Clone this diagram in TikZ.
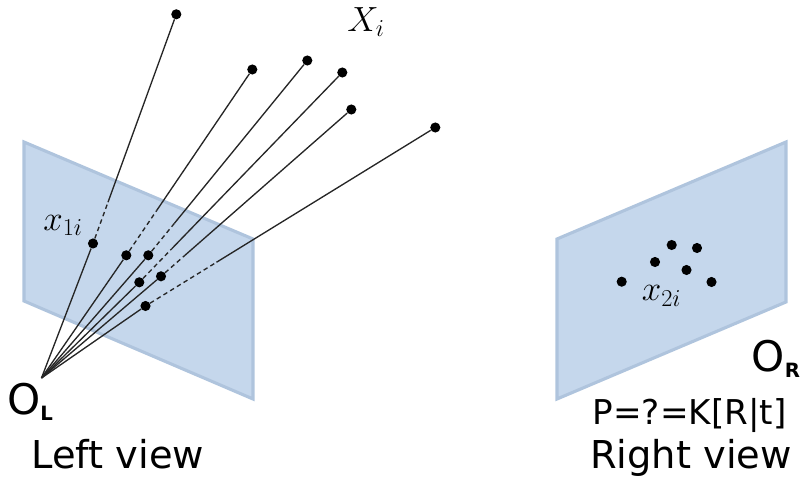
\documentclass[tikz,border=0pt]{standalone}
\usepackage{fontspec}
\setmainfont{DejaVu Sans}
\usetikzlibrary{calc}
\definecolor{planeFill}{HTML}{C5D7EC}
\definecolor{planeEdge}{HTML}{AFC4DD}

\begin{document}
\begin{tikzpicture}[
  x=0.025cm, y=-0.025cm,
  plane/.style={draw=planeEdge, fill=planeFill, line width=2.2pt, line join=miter},
  dot/.style={circle, fill=black, inner sep=0pt, minimum size=7.2pt},
  ray/.style={draw=black!85, line width=0.95pt},
  hidden/.style={draw=black!85, line width=0.95pt, dash pattern=on 3.2pt off 2.4pt},
  title/.style={font=\fontsize{27.3}{32}\selectfont, inner sep=0pt},
  matrixtext/.style={font=\fontsize{24.3}{29}\selectfont, inner sep=0pt},
  origin/.style={font=\fontsize{30}{36}\selectfont, inner sep=0pt},
  symbol/.style={font=\fontsize{24.5}{30}\selectfont, inner sep=0pt}
]
\useasboundingbox (0,0) rectangle (802,477);

% Image planes
\draw[plane] (24,142) -- (253,239) -- (253,399) -- (24,301) -- cycle;
\draw[plane] (557,239) -- (786,142) -- (786,302) -- (557,399) -- cycle;

% Camera centre and points in space
\coordinate (apex) at (41.5,378);
\node[dot] (worldA) at (176.3,14.3) {};
\node[dot] (worldB) at (252.3,69.5) {};
\node[dot] (worldC) at (307.3,60.5) {};
\node[dot] (worldD) at (342.3,72.5) {};
\node[dot] (worldE) at (351.3,109.5) {};
\node[dot] (worldF) at (435.3,127.5) {};

% Projections, left view
\node[dot] (leftA) at (93,243.5) {};
\node[dot] (leftB) at (126.3,255.3) {};
\node[dot] (leftC) at (148.3,255.3) {};
\node[dot] (leftD) at (139.3,282.3) {};
\node[dot] (leftE) at (161,276.3) {};
\node[dot] (leftF) at (145.5,306) {};

% Where the dashes stop
\coordinate (splitA) at ($(leftA)!0.18!(worldA)$);
\coordinate (splitB) at ($(leftB)!0.24!(worldB)$);
\coordinate (splitC) at ($(leftC)!0.165!(worldC)$);
\coordinate (splitD) at ($(leftD)!0.16!(worldD)$);
\coordinate (splitE) at ($(leftE)!0.125!(worldE)$);
\coordinate (splitF) at ($(leftF)!0.245!(worldF)$);

% Rays
\draw[ray] (apex) -- (leftA);
\draw[ray] (apex) -- (leftB);
\draw[ray] (apex) -- (leftC);
\draw[ray] (apex) -- (leftD);
\draw[ray] (apex) -- (leftE);
\draw[ray] (apex) -- (leftF);
\draw[hidden] (leftA) -- (splitA);
\draw[hidden] (leftB) -- (splitB);
\draw[hidden] (leftC) -- (splitC);
\draw[hidden] (leftD) -- (splitD);
\draw[hidden] (leftE) -- (splitE);
\draw[hidden] (leftF) -- (splitF);
\draw[ray] (splitA) -- (worldA);
\draw[ray] (splitB) -- (worldB);
\draw[ray] (splitC) -- (worldC);
\draw[ray] (splitD) -- (worldD);
\draw[ray] (splitE) -- (worldE);
\draw[ray] (splitF) -- (worldF);

% Projections, right view
\node[dot] (rightA) at (621.7,281.7) {};
\node[dot] (rightB) at (671.7,245) {};
\node[dot] (rightC) at (697,248) {};
\node[dot] (rightD) at (655,262) {};
\node[dot] (rightE) at (686.5,270) {};
\node[dot] (rightF) at (711.5,282) {};

% Labels
\node[symbol] (worldLabel) at (366,22) {$X_i$};
\node[symbol] (leftLabel) at (63,225.5) {$x_{1i}$};
\node[symbol] (rightLabel) at (661.5,296) {$x_{2i}$};
\node[origin, anchor=base west] (originL) at (7,414.5) {O\raisebox{-4.5pt}{\fontsize{14}{16}\selectfont\bfseries L}};
\node[origin, anchor=base west] (originR) at (751.5,371.5) {O\raisebox{-4.5pt}{\fontsize{14}{16}\selectfont\bfseries R}};
\node[matrixtext, anchor=base] (matrixLabel) at (689.5,425) {P=?=K[R|t]};
\node[title, anchor=base] (leftTitle) at (117.8,469) {Left view};
\node[title, anchor=base] (rightTitle) at (691,469) {Right view};
\end{tikzpicture}
\end{document}
